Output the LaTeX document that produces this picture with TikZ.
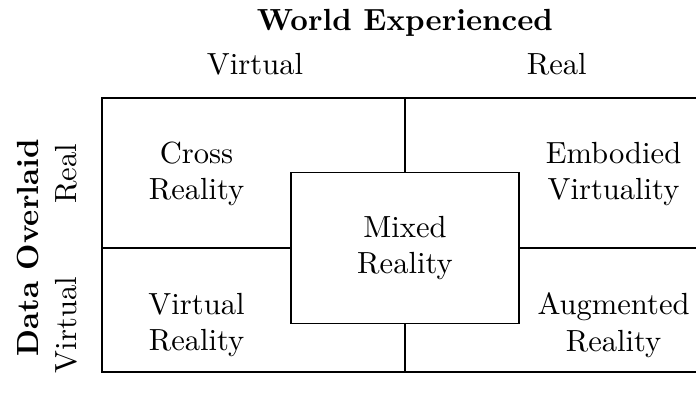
\documentclass[tikz,border=0pt]{standalone}
\usetikzlibrary{positioning}

\begin{document}
\begin{tikzpicture}[
every node/.style={align=center},
axis/.style={font=\bfseries},
side/.style={rotate=90}]
\clip (0,0) rectangle (8,4.609);
% quadrant grid
\coordinate (nw) at (1.172,3.483);
\coordinate (se) at (8.138,0.333);
\coordinate (mid) at (4.655,1.759);
\draw (nw) rectangle (se);
\draw (nw |- mid) -- (se |- mid);
\draw (nw -| mid) -- (se -| mid);
\node (mixed) [draw,fill=white,minimum width=2.621cm,minimum height=1.736cm] at (mid) {Mixed\\Reality};
% cell labels
\node (cross) at (2.259,2.609) {Cross\\Reality};
\node (vr) at (2.259,0.874) {Virtual\\Reality};
\node (ev) at (7.052,2.609) {Embodied\\Virtuality};
\node (ar) at (7.052,0.874) {Augmented\\Reality};
% axis headings
\node (world) [axis] at (4.655,4.345) {World Experienced};
\node (colv) at (2.931,3.874) {Virtual};
\node (colr) at (6.400,3.874) {Real};
\node (data) [axis,side] at (0.322,1.759) {Data Overlaid};
\node (rowr) [side] at (0.759,2.609) {Real};
\node (rowv) [side] at (0.759,0.874) {Virtual};
\end{tikzpicture}
\end{document}
